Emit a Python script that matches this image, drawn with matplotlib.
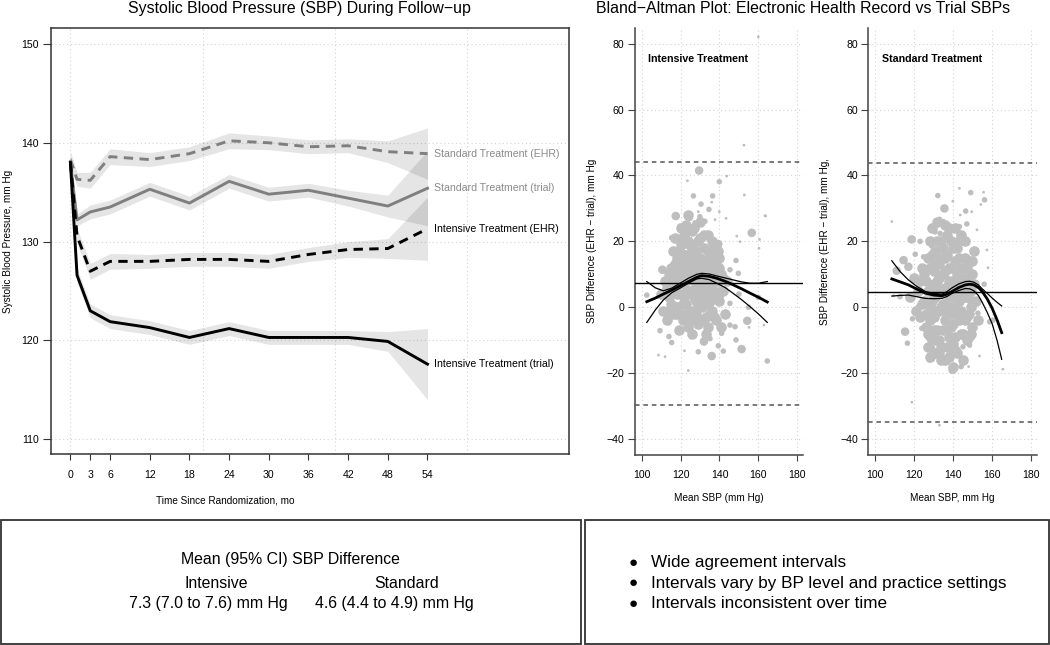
import matplotlib
matplotlib.use("Agg")
import matplotlib.pyplot as plt
from matplotlib.patches import Rectangle

plt.rcParams['font.family'] = ['Liberation Sans', 'DejaVu Sans']

# ---- Follow-up SBP (left panel) ----
months = [0, 1, 3, 6, 12, 18, 24, 30, 36, 42, 48, 54]
month_ticks = [0, 3, 6, 12, 18, 24, 30, 36, 42, 48, 54]
std_ehr = [138.3, 136.3, 136.2, 138.6, 138.3, 138.9, 140.2, 140.0, 139.6, 139.7, 139.1, 138.9]
std_trial = [138.0, 132.2, 133.0, 133.5, 135.3, 133.9, 136.1, 134.8, 135.2, 134.4, 133.6, 135.4]
int_ehr = [138.0, 130.6, 127.0, 128.0, 128.0, 128.2, 128.2, 128.0, 128.7, 129.2, 129.3, 131.3]
int_trial = [138.0, 126.6, 123.0, 121.9, 121.3, 120.3, 121.2, 120.3, 120.3, 120.3, 119.9, 117.6]
std_ehr_ci = [0.8, 0.7, 0.8, 0.8, 0.7, 0.7, 0.8, 0.7, 0.7, 0.7, 1.1, 2.6]
std_trial_ci = [0.7, 0.6, 0.7, 0.7, 0.7, 0.7, 0.7, 0.7, 0.7, 0.8, 1.1, 3.8]
int_ehr_ci = [0.8, 0.8, 0.8, 0.8, 0.7, 0.7, 0.7, 0.7, 0.7, 0.8, 1.0, 3.2]
int_trial_ci = [0.8, 0.7, 0.7, 0.7, 0.7, 0.7, 0.7, 0.7, 0.7, 0.7, 1.0, 3.6]
series_labels = ['Standard Treatment (EHR)', 'Standard Treatment (trial)',
                 'Intensive Treatment (EHR)', 'Intensive Treatment (trial)']

# ---- Bland-Altman, intensive ----
int_x = [160, 152.6, 129.5, 123.5, 139.9, 143.7, 126.6, 136.5, 152.8, 136, 130.5, 134.6, 129.1, 139.9,
         163.8, 117.5, 124.8, 129.9, 143.4, 119.7, 122.3, 127.4, 132.5, 137.7, 156.6, 148.9, 160.6, 160.3,
         150.6, 115.4, 139.4, 148.5, 110.6, 145.4, 149.7, 163.4,
         109.4, 102.6, 114, 115.4, 108.6, 122, 124, 129.1, 132, 136, 139.4, 142, 141.1, 148.5, 151.4, 154.3,
         155.2, 164.6, 162.9, 145.4, 148, 135.1, 126.6, 119.7, 142.9, 145.4, 149.7, 112, 118, 160, 155, 150]
int_y = [82.1, 49.2, 41.5, 38.4, 38.1, 39.8, 33.8, 33.8, 34.1, 31.9, 31.3, 29.7, 29.0, 29.0,
         27.7, 27.7, 27.0, 27.5, 27.0, 24.6, 23.6, 25.6, 26.1, 26.6, 22.6, 21.6, 20.6, 17.9,
         19.9, 21.1, 19.2, 14.2, 11.4, 11.4, 10.6, 27.8,
         -7.1, 3.7, -8.9, -10.7, -14.5, -13.2, -19.2, -13.5, -10.4, -14.8, -11.7, -13.3, -7.9, -9.9, -12.7, -4.1,
         -6.1, -16.3, -5.4, -5.4, -5.9, -9.5, -7.9, -6.4, -1.8, 1.2, 10.3, -15, -3, 3, 0, 4]
int_w = [1, 1, 3, 1, 2, 1, 2, 2, 1, 1, 2, 2, 1, 1,
         1, 3, 2, 2, 1, 2, 2, 2, 2, 1, 3, 1, 1, 1,
         1, 2, 3, 2, 3, 2, 1, 1,
         2, 2, 2, 2, 1, 1, 1, 2, 3, 3, 2, 2, 2, 2, 3, 3,
         1, 2, 1, 2, 2, 2, 2, 2, 2, 2, 2, 1, 2, 2, 2, 2]
# dense centre of the cloud
int_core_x = [112, 114, 115, 116, 117, 118, 118, 119, 120, 120, 121, 121, 122, 122, 123, 123, 124, 124,
              125, 125, 126, 126, 127, 127, 128, 128, 129, 129, 130, 130, 131, 131, 132, 132, 133, 133,
              134, 134, 135, 135, 136, 136, 137, 137, 138, 138, 139, 140, 140, 141, 142, 143, 119, 126,
              133, 113, 116, 123, 130, 117, 110, 111, 144, 141, 127, 121, 134, 124, 120, 122, 128, 131,
              125, 136, 129, 115, 138, 132,
              113, 114, 115, 116, 117, 117, 118, 119, 119, 120, 120, 121, 121, 122, 122, 123, 123, 124,
              124, 125, 125, 126, 126, 127, 127, 128, 128, 129, 129, 130, 130, 131, 131, 132, 132, 133,
              133, 134, 134, 135, 135, 136, 136, 137, 137, 138, 139, 139, 140, 141, 142, 137, 126, 121,
              118, 114, 131, 128, 124, 135]
int_core_y = [8, 3, 12, -2, 6, 15, 0, 10, 4, 19, -4, 13, 7, 22, 1, 16, 10, -6,
              5, 19, 13, -1, 8, 24, 2, 17, 11, -5, 6, 21, 14, 0, 9, 18, 3, -3,
              12, 22, 6, 16, -1, 10, 4, 19, 13, -4, 8, 2, 15, 10, 5, -2, -7, -8,
              -8, -4, 17, 25, 26, 21, 4, -1, 8, -6, -3, 1, -6, 28, 24, 11, 6, 4,
              14, 3, 1, 7, 9, 12,
              6, 10, 1, 8, -1, 13, 4, 17, 7, -2, 12, 9, 21, 3, 16, -2, 11, 5,
              20, 14, -4, 9, 23, 3, 16, -2, 12, 7, 20, 1, 15, 10, -4, 4, 22, 14,
              8, 1, 17, 11, -2, 6, 20, 14, -3, 9, 3, 17, 12, 5, 9, 8, 18, 16,
              10, -1, 7, 6, 14, 2]
int_fit_x = [102.6, 107, 111.1, 115.4, 119.7, 124, 128.3, 130.8, 134.7, 138.6, 142.9, 147.1, 151.4, 155.7,
             160.2, 164.6]
int_fit = [1.7, 2.8, 4.0, 5.2, 6.5, 7.8, 9.1, 9.6, 9.4, 8.8, 7.9, 6.8, 5.6, 4.3, 3.0, 1.6]
int_fit_hi = [7.8, 5.9, 5.0, 5.8, 7.3, 8.8, 10.0, 10.3, 10.1, 9.5, 8.9, 8.3, 7.7, 7.3, 7.3, 7.8]
int_fit_lo = [-4.6, -0.8, 2.2, 4.4, 5.8, 7.3, 8.6, 8.8, 8.4, 7.3, 6.0, 4.2, 2.3, 0.2, -2.1, -4.6]
int_mean, int_loa = 7.3, [44.2, -29.6]

# ---- Bland-Altman, standard ----
std_x = [143.3, 149.1, 155.7, 132.2, 156.2, 154.3, 139.9, 135.6, 146.5, 143.7, 149.6, 108.6, 133.1, 135.1,
         143.3, 147.1, 133.4, 130.8, 118.8, 123.1, 127.4, 129.1, 152.3, 157.4, 114.6, 120.6, 124.9, 129.1,
         117.1, 111.1,
         115.4, 116.6, 124, 128.3, 129.6, 127.9, 139.8, 144.2, 148, 165.6, 153.6, 149.7, 148.5, 145.1,
         148.5, 158.8, 160.5, 152.8, 119.2, 122.3, 117.1, 112.8, 133.4, 127.4, 138.6, 118.9, 133, 109.5,
         156, 158]
std_y = [36.1, 34.8, 34.9, 33.9, 32.6, 31.2, 32.2, 30.0, 29.2, 28.0, 29.0, 26.0, 26.7, 26.0,
         24.5, 25.3, 22.4, 22.9, 20.6, 20.0, 20.4, 18.6, 23.5, 17.4, 14.3, 16.1, 15.3, 12.8,
         12.3, 11.1,
         -7.4, -10.9, -6.4, -8.4, -12.5, -16.0, -19.0, -18.0, -18, -18.8, -14.8, -9.4, -11.5, -12.0,
         -3.4, -4.4, -3.9, -1.8, -3.5, 0.2, 2.7, 3.2, -14.0, -9.4, -14.5, -28.8, -35.8, 3.5,
         7, 12]
std_w = [1, 2, 1, 2, 2, 1, 1, 3, 2, 1, 1, 1, 2, 2,
         2, 2, 2, 2, 3, 2, 2, 2, 1, 1, 3, 2, 2, 2,
         3, 3,
         3, 2, 2, 2, 2, 2, 3, 2, 1, 1, 1, 2, 2, 2,
         2, 2, 2, 2, 2, 2, 2, 2, 2, 2, 2, 1, 1, 1,
         2, 1]
std_core_x = [122, 123, 124, 125, 126, 126, 127, 128, 128, 129, 129, 130, 130, 131, 131, 132, 132, 133,
              133, 134, 134, 135, 135, 136, 136, 137, 137, 138, 138, 139, 139, 140, 140, 141, 141, 142,
              142, 143, 143, 144, 144, 145, 145, 146, 146, 147, 147, 148, 149, 149, 150, 150, 151, 152,
              134, 138, 131, 127, 121, 120, 118, 153, 136, 141, 144, 129, 132, 140, 145, 128, 137, 142,
              135, 139, 133, 146, 130, 143,
              123, 124, 125, 126, 127, 127, 128, 128, 129, 129, 130, 130, 131, 131, 132, 132, 133, 133,
              134, 134, 135, 135, 136, 136, 137, 137, 138, 138, 139, 139, 140, 140, 141, 141, 142, 142,
              143, 143, 144, 144, 145, 145, 146, 146, 147, 147, 148, 148, 149, 150, 151, 150, 137, 142,
              133, 136, 140, 131, 138, 143]
std_core_y = [5, -3, 12, 2, 8, -6, 15, 0, 20, 6, -10, 11, -3, 17, 3, -7, 8, 13,
              -1, 20, -12, 5, 10, -4, 15, 0, 22, 8, -9, 12, 3, -5, 18, 6, -13, 10,
              -1, 15, 2, -8, 7, 12, -3, 20, 3, -10, 8, 14, 0, 5, -6, 10, 17, 2,
              -16, -15, -14, -12, -1, 9, 3, -4, 25, 24, 22, 24, 26, -18, -16, -15, -7, 4,
              1, -2, 6, 9, 4, 5,
              8, 1, 10, -2, 5, -8, 12, -4, 2, 16, 7, -7, 13, -1, 4, 20, 9, -10,
              15, 0, -7, 18, 6, 11, -2, 16, 3, 12, -6, 20, 8, 0, 14, -9, 4, 18,
              -4, 9, 12, -1, 6, -8, 15, -4, 3, 12, -2, 8, -8, 2, 7, 14, -12, -14,
              -14, -16, -11, -10, 24, 20]
std_fit_x = [108.6, 112.9, 117.1, 121.5, 125.8, 130.1, 134.4, 137.0, 139.5, 143.0, 146.4, 148.6, 150.7,
             153.0, 155.0, 157.6, 160.1, 162.6, 165.0]
std_fit = [8.6, 7.7, 6.8, 5.5, 4.3, 3.7, 3.5, 4.0, 4.8, 6.0, 6.8, 7.0, 6.8, 6.0, 4.8, 2.5, -0.3, -3.8, -7.7]
std_fit_hi = [14.1, 10.8, 8.3, 6.3, 4.8, 4.2, 4.0, 4.8, 5.9, 7.1, 7.8, 7.9, 7.6, 6.8, 5.6, 4.2, 2.8, 1.5, 0.4]
std_fit_lo = [3.4, 3.6, 3.7, 3.2, 2.7, 2.6, 2.7, 3.3, 4.2, 5.1, 5.7, 5.6, 5.0, 3.6, 1.5, -1.6, -5.0, -10.0,
              -15.8]
std_mean, std_loa = 4.6, [43.9, -34.8]

grid_kw = dict(color='#d4d4d4', lw=0.8, ls=(0, (1, 2.5)), zorder=0)
dot_sizes = {1: 4, 2: 16, 3: 38}

fig = plt.figure(figsize=(10.5, 6.45), dpi=100)

# Left panel: SBP during follow-up
ax = fig.add_axes([0.0483, 0.2957, 0.4936, 0.6614])
for gx in [0, 20, 40, 60]:
    ax.axvline(gx, **grid_kw)
for gy in [110, 120, 130, 140, 150]:
    ax.axhline(gy, **grid_kw)

lines = [(std_ehr, std_ehr_ci, '#7f7f7f', (0, (3.2, 2.2))),
         (std_trial, std_trial_ci, '#7f7f7f', '-'),
         (int_ehr, int_ehr_ci, 'black', (0, (3.2, 2.2))),
         (int_trial, int_trial_ci, 'black', '-')]
for vals, ci, col, ls in lines:
    lo = [v - c for v, c in zip(vals, ci)]
    hi = [v + c for v, c in zip(vals, ci)]
    ax.fill_between(months, lo, hi, color='black', alpha=0.1, lw=0, zorder=1)
for vals, ci, col, ls in lines:
    ax.plot(months, vals, color=col, ls=ls, lw=2.1, zorder=3)

label_cols = ['#8a8a8a', '#8a8a8a', 'black', 'black']
for (vals, ci, col, ls), lab, lc in zip(lines, series_labels, label_cols):
    ax.text(55, vals[-1], lab, color=lc, fontsize=7.6, va='center', ha='left')

ax.set_xlim(-2.98, 75.4)
ax.set_ylim(108.48, 151.65)
ax.set_xticks(month_ticks)
ax.set_yticks([110, 120, 130, 140, 150])
ax.tick_params(axis='x', length=4, pad=7, labelsize=7.6, color='#333333')
ax.tick_params(axis='y', length=6, pad=2.5, labelsize=7.6, color='#333333')
for sp in ax.spines.values():
    sp.set_color('#333333')
    sp.set_linewidth(1.1)
ax.set_ylabel('Systolic Blood Pressure, mm Hg', fontsize=7.2, labelpad=6)

fig.text(0.285, 0.987, 'Systolic Blood Pressure (SBP) During Follow\u2212up',
         fontsize=11.4, ha='center', va='center')
fig.text(0.215, 0.2248, 'Time Since Randomization, mo', fontsize=7.2, ha='center', va='center')

# Right panels: Bland-Altman plots
panels = [
    ([0.6048, 0.2946, 0.16, 0.662], int_x, int_y, int_w, int_core_x, int_core_y,
     int_fit_x, int_fit, int_fit_hi, int_fit_lo, int_mean, int_loa,
     'Intensive Treatment', 'Mean SBP (mm Hg)', 'SBP Difference (EHR \u2212 trial), mm Hg', 0.5638),
    ([0.827, 0.2946, 0.1604, 0.662], std_x, std_y, std_w, std_core_x, std_core_y,
     std_fit_x, std_fit, std_fit_hi, std_fit_lo, std_mean, std_loa,
     'Standard Treatment', 'Mean SBP, mm Hg', 'SBP Difference (EHR \u2212 trial), mm Hg,', 0.7857),
]
for (rect, px, py, pw, cx, cy, fx, fm, fhi, flo, mean, loa,
     title, xlab, ylab, ylab_x) in panels:
    bx = fig.add_axes(rect)
    bx.set_xlim(96.55, 183.0)
    bx.set_ylim(-44.83, 84.76)
    bx.set_xticks([100, 120, 140, 160, 180])
    bx.set_yticks([-40, -20, 0, 20, 40, 60, 80])
    bx.grid(True, **{k: v for k, v in grid_kw.items() if k != 'zorder'})
    bx.set_axisbelow(True)
    bx.scatter(cx, cy, s=58, color='#bebebe', lw=0, zorder=2)
    bx.scatter(px, py, s=[dot_sizes[w] for w in pw], color='#bebebe', lw=0, zorder=2)
    bx.axhline(mean, color='black', lw=1.0, zorder=4)
    for l in loa:
        bx.axhline(l, color='#555555', lw=1.1, ls=(0, (3, 2.5)), zorder=4)
    bx.plot(fx, fm, color='black', lw=2.0, zorder=5)
    bx.plot(fx, fhi, color='black', lw=0.9, zorder=5)
    bx.plot(fx, flo, color='black', lw=0.9, zorder=5)
    bx.text(0.08, 0.927, title, transform=bx.transAxes,
            fontsize=7.7, fontweight='bold', ha='left', va='center')
    for s in ['top', 'right']:
        bx.spines[s].set_visible(False)
    for s in ['left', 'bottom']:
        bx.spines[s].set_color('#444444')
        bx.spines[s].set_linewidth(1.1)
    bx.tick_params(axis='x', length=4, pad=7, labelsize=7.6, color='#444444')
    bx.tick_params(axis='y', length=5, pad=2.5, labelsize=7.6, color='#444444')
    bx.set_xlabel(xlab, fontsize=7.2)
    bx.xaxis.set_label_coords(0.5, -0.09)
    fig.text(ylab_x, 0.626, ylab, rotation=90, fontsize=7.2, ha='center', va='center')

fig.text(0.765, 0.987, 'Bland\u2212Altman Plot: Electronic Health Record vs Trial SBPs',
         fontsize=11.4, ha='center', va='center')

# Bottom summary boxes
fig.patches.append(Rectangle((0.001, 0.002), 0.552, 0.192, transform=fig.transFigure,
                             fill=False, edgecolor='#333333', lw=1.3))
fig.patches.append(Rectangle((0.557, 0.002), 0.442, 0.192, transform=fig.transFigure,
                             fill=False, edgecolor='#333333', lw=1.3))

fig.text(0.277, 0.1333, 'Mean (95% CI) SBP Difference', fontsize=11.4, ha='center', va='center')
fig.text(0.2057, 0.0961, 'Intensive', fontsize=11.4, ha='center', va='center')
fig.text(0.3876, 0.0961, 'Standard', fontsize=11.4, ha='center', va='center')
fig.text(0.198, 0.0651, '7.3 (7.0 to 7.6) mm Hg', fontsize=11.4, ha='center', va='center')
fig.text(0.376, 0.0651, '4.6 (4.4 to 4.9) mm Hg', fontsize=11.4, ha='center', va='center')

bullets = ['Wide agreement intervals',
           'Intervals vary by BP level and practice settings',
           'Intervals inconsistent over time']
for i, b in enumerate(bullets):
    yy = 0.1276 - i * 0.0318
    fig.text(0.603, yy, '\u25cf', fontsize=11, ha='center', va='center')
    fig.text(0.62, yy, b, fontsize=12.3, ha='left', va='center')

fig.savefig('out.png', dpi=100)
plt.close(fig)
